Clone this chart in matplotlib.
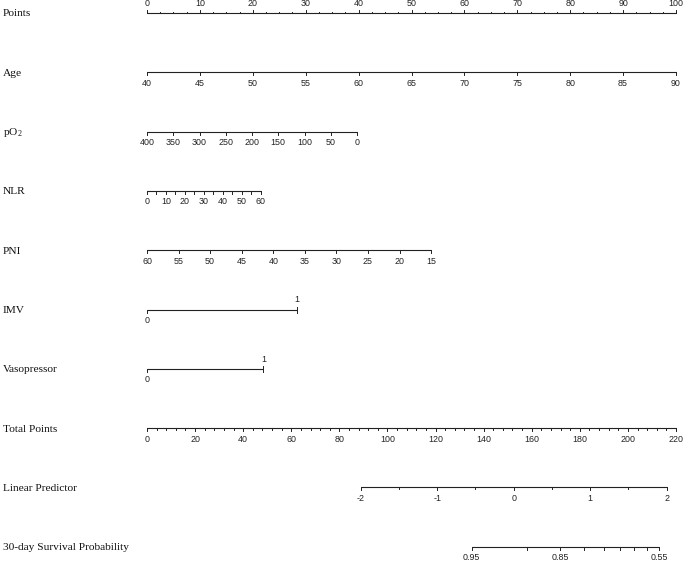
import numpy as np
import matplotlib.pyplot as plt

plt.rcParams["mathtext.fontset"] = "custom"
plt.rcParams["mathtext.rm"] = "Liberation Serif"

# nomogram scales
row_names = ["Points", "Age", r"pO$_\mathrm{2}$", "NLR", "PNI", "IMV", "Vasopressor",
             "Total Points", "Linear Predictor", "30-day Survival Probability"]

points_ticks = list(range(0, 101, 10))
points_minor = list(np.arange(0, 100.1, 2.5))

age_ticks = [40, 45, 50, 55, 60, 65, 70, 75, 80, 85, 90]
age_range = (40, 90)
age_pts = 100.0

po2_ticks = [400, 350, 300, 250, 200, 150, 100, 50, 0]
po2_range = (400, 0)
po2_pts = 39.7

nlr_ticks = [0, 5, 10, 15, 20, 25, 30, 35, 40, 45, 50, 55, 60]
nlr_labels = [0, 10, 20, 30, 40, 50, 60]
nlr_range = (0, 60)
nlr_pts = 21.5

pni_ticks = [60, 55, 50, 45, 40, 35, 30, 25, 20, 15]
pni_range = (60, 15)
pni_pts = 53.7

imv_pts = 28.3
vaso_pts = 22.0

total_ticks = list(range(0, 221, 20))
total_minor = list(range(0, 221, 4))
total_max = 220

lp_ticks = [-2, -1, 0, 1, 2]
lp_minor = [-1.5, -0.5, 0.5, 1.5]
lp_zero_tp = 152.5
lp_slope_tp = 31.8

surv_ticks = [0.95, 0.9, 0.85, 0.8, 0.75, 0.7, 0.65, 0.6, 0.55]
surv_labels = [0.95, 0.85, 0.55]
surv_base = 0.915


def to_points(v, rng, pmax):
    lo, hi = rng
    return (np.asarray(v, float) - lo) / (hi - lo) * pmax


def tp_to_x(tp):
    return np.asarray(tp, float) * 100.0 / total_max


def lp_to_x(lp):
    return tp_to_x(lp_zero_tp + lp_slope_tp * np.asarray(lp, float))


def surv_to_x(s):
    s = np.asarray(s, float)
    lp = np.log(-np.log(s)) - np.log(-np.log(surv_base))
    return lp_to_x(lp)


def fmt(v):
    return ("%g" % v)


PX = 5.29  # pixels per point on the Points axis
fig = plt.figure(figsize=(6.85, 5.62), dpi=100)
ax = fig.add_axes([0, 0, 1, 1])
ax.set_xlim(-147 / PX, (685 - 147) / PX)
ax.set_ylim(562, 0)
ax.axis("off")

lc = "#222222"
tick_font = dict(family="Liberation Sans", fontsize=6.4, color="#222222")
row_ys = [13 + 59.3 * i for i in range(len(row_names))]


def draw_axis(y, xs, labels, side=1, minor=None, lab_xs=None, sides=None):
    xs = np.asarray(xs, float)
    ax.plot([xs.min(), xs.max()], [y, y], color=lc, lw=0.8, solid_capstyle="butt")
    if minor is not None:
        for mx in minor:
            ax.plot([mx, mx], [y, y + side * 1.5], color=lc, lw=0.7)
    if lab_xs is None:
        lab_xs = xs
    if sides is None:
        sides = [side] * len(labels)
    for x in xs:
        ax.plot([x, x], [y, y + side * 3], color=lc, lw=0.7)
    for x, lab, sd in zip(lab_xs, labels, sides):
        if sd != side:
            ax.plot([x, x], [y, y + sd * 3], color=lc, lw=0.7)
        off = 11 if sd > 0 else -9.5
        ax.text(x, y + off, lab, ha="center", va="center", **tick_font)


for name, y in zip(row_names, row_ys):
    ax.text(-147 / PX + 3 / PX, y + 1, name, ha="left", va="center",
            family="Liberation Serif", fontsize=8.2, color="#111111")

# Points
draw_axis(row_ys[0], points_ticks, [fmt(v) for v in points_ticks], side=-1,
          minor=points_minor)
# Age
draw_axis(row_ys[1], to_points(age_ticks, age_range, age_pts),
          [fmt(v) for v in age_ticks])
# pO2
draw_axis(row_ys[2], to_points(po2_ticks, po2_range, po2_pts),
          [fmt(v) for v in po2_ticks])
# NLR
ax_nlr = to_points(nlr_ticks, nlr_range, nlr_pts)
draw_axis(row_ys[3], ax_nlr, [fmt(v) for v in nlr_labels],
          lab_xs=to_points(nlr_labels, nlr_range, nlr_pts))
# PNI
draw_axis(row_ys[4], to_points(pni_ticks, pni_range, pni_pts),
          [fmt(v) for v in pni_ticks])
# IMV / Vasopressor (binary)
draw_axis(row_ys[5], [0, imv_pts], ["0", "1"], sides=[1, -1])
draw_axis(row_ys[6], [0, vaso_pts], ["0", "1"], sides=[1, -1])
# Total points
draw_axis(row_ys[7], tp_to_x(total_ticks), [fmt(v) for v in total_ticks],
          minor=tp_to_x(total_minor))
# Linear predictor
draw_axis(row_ys[8], lp_to_x(lp_ticks), [fmt(v) for v in lp_ticks],
          minor=lp_to_x(lp_minor))
# Survival probability
draw_axis(row_ys[9], surv_to_x(surv_ticks), [fmt(v) for v in surv_labels],
          lab_xs=surv_to_x(surv_labels))

fig.savefig("out.png", dpi=100)
